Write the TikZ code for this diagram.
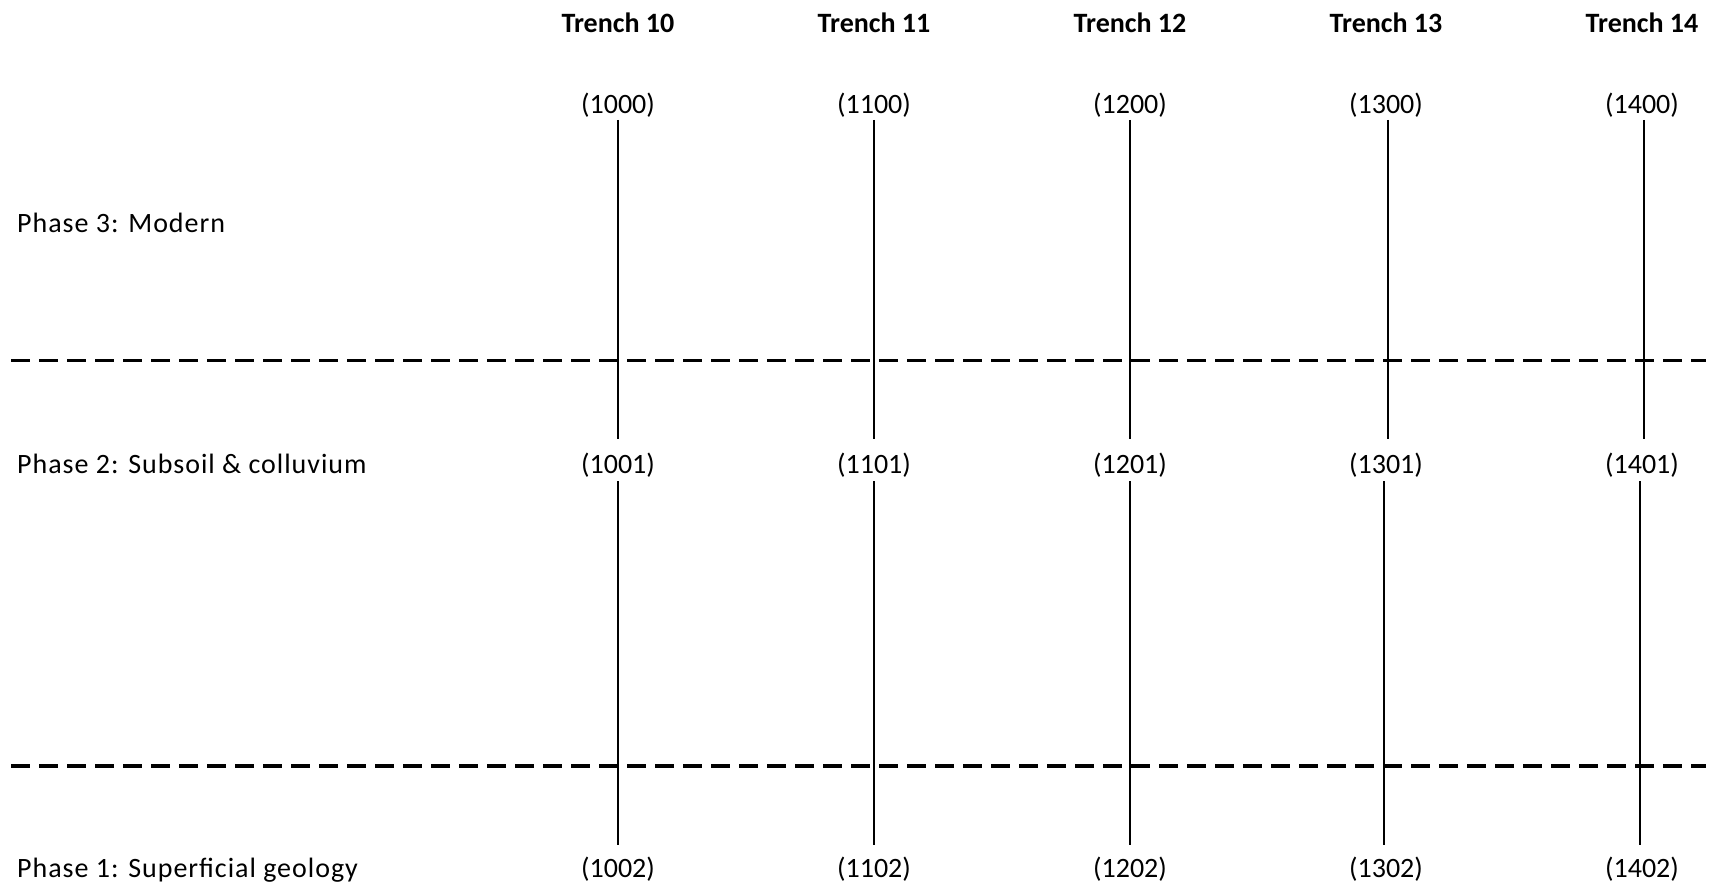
\documentclass[tikz,border=0pt]{standalone}
\usepackage{fontspec}
\setmainfont{Carlito}
\begin{document}
\begin{tikzpicture}[x=1pt,y=-1pt,
  lbl/.style={font=\fontsize{28}{32}\selectfont, inner sep=0pt, anchor=base},
  head/.style={font=\fontsize{28}{32}\selectfont\bfseries, inner sep=0pt, anchor=base},
  phase/.style={font=\fontsize{28}{32}\selectfont\addfontfeature{LetterSpace=3.5}, inner sep=0pt, anchor=base west},
  vline/.style={line width=1.4pt},
  phaseline/.style={line width=3.5pt, dash pattern=on 19pt off 9pt}]
\useasboundingbox (0,0) rectangle (1713,888);
% phase labels
\node[phase] (p3) at (17,232) {Phase 3: Modern};
\node[phase] (p2) at (17,473) {Phase 2: Subsoil \& colluvium};
\node[phase] (p1) at (17,877) {Phase 1: Superficial geology};
% phase boundaries
\coordinate (d1a) at (11,360.5);
\coordinate (d1b) at (1706,360.5);
\coordinate (d2a) at (11,766);
\coordinate (d2b) at (1706,766);
\draw[phaseline] (d1a) -- (d1b);
\draw[phaseline] (d2a) -- (d2b);
% trenches
\foreach \t/\x/\u/\l in {10/618/0/0, 11/874/0/0, 12/1130/0/0, 13/1386/2/-2, 14/1642/2/-2} {
  \node[head] (h\t) at (\x,33) {Trench \t};
  \node[lbl] (a\t) at (\x,114) {(\t00)};
  \node[lbl] (b\t) at (\x,473) {(\t01)};
  \node[lbl] (c\t) at (\x,877) {(\t02)};
  \draw[vline] ([xshift=\u pt,yshift=-6pt]a\t.base) -- ([xshift=\u pt,yshift=34pt]b\t.base);
  \draw[vline] ([xshift=\l pt,yshift=-8pt]b\t.base) -- ([xshift=\l pt,yshift=32pt]c\t.base);
}
\end{tikzpicture}
\end{document}
